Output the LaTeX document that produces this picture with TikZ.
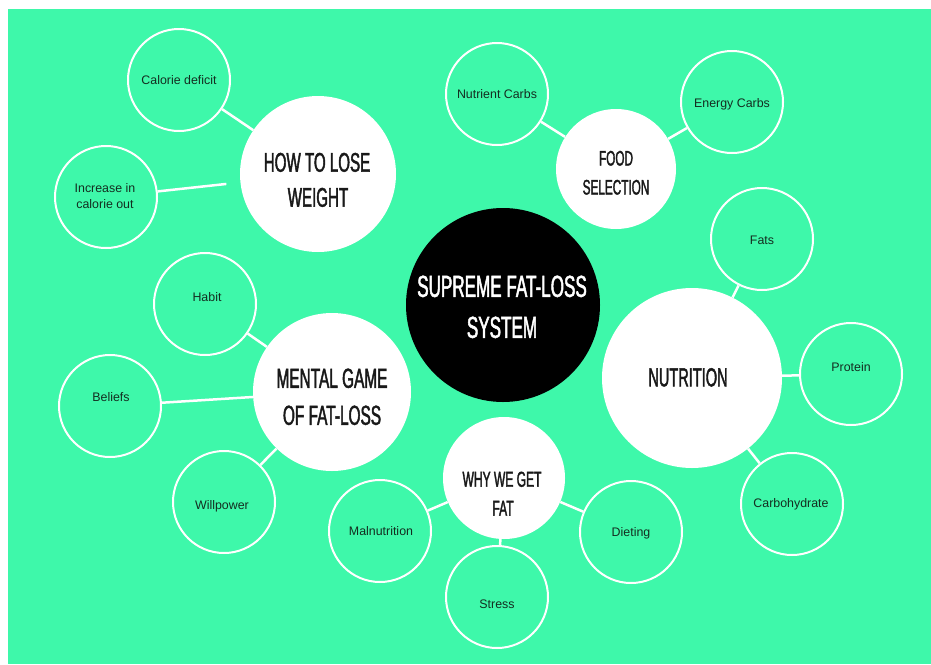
\documentclass[tikz,border=0pt]{standalone}
\usepackage{fontspec}
\setmainfont{Liberation Sans}
\newfontfamily\condfont[FakeStretch=0.56,FakeBold=1.6]{Liberation Sans}
\definecolor{bg}{RGB}{62,248,170}
\definecolor{ink}{RGB}{20,45,32}
\definecolor{bigink}{RGB}{25,25,25}
\begin{document}
\begin{tikzpicture}[x=1pt,y=-1pt,
  small/.style={circle,draw=white,line width=2pt,minimum size=102pt,inner sep=0pt},
  bigw/.style={circle,fill=white,inner sep=0pt},
  link/.style={draw=white,line width=2.5pt},
  stxt/.style={anchor=base,inner sep=0pt,text=ink,font=\fontsize{12.4}{14}\selectfont},
  btxt/.style={anchor=base,inner sep=0pt,text=bigink},
  ]
\useasboundingbox (0,0) rectangle (931,664);
\fill[white] (0,0) rectangle (931,664);
\fill[bg] (8,9) rectangle (931,664);

% main circles
\node[circle,fill=black,inner sep=0pt,minimum size=194pt] (sys) at (503,305) {};
\node[bigw,minimum size=156pt] (htlw) at (318,174) {};
\node[bigw,minimum size=120pt] (food) at (616,169) {};
\node[bigw,minimum size=180pt] (nut) at (692,378) {};
\node[bigw,minimum size=158pt] (mg) at (332,392) {};
\node[bigw,minimum size=122pt] (why) at (504,478) {};

% small circles
\node[small] (cal) at (179,80) {};
\node[small] (inc) at (106,197) {};
\node[small] (nc) at (497,94) {};
\node[small] (ec) at (732,102) {};
\node[small] (fats) at (762,239) {};
\node[small] (prot) at (851,374) {};
\node[small] (carb) at (792,504) {};
\node[small] (habit) at (205,304) {};
\node[small] (bel) at (110,406) {};
\node[small] (will) at (224,502) {};
\node[small] (maln) at (380,531) {};
\node[small] (stress) at (497,597) {};
\node[small] (diet) at (631,532) {};

% connectors
\draw[link] (cal) -- (htlw);
\draw[link,shorten >=14pt] (inc) -- (htlw);
\draw[link] (nc) -- (food);
\draw[link] (ec) -- (food);
\draw[link] (fats) -- (nut);
\draw[link] (prot) -- (nut);
\draw[link] (carb) -- (nut);
\draw[link] (habit) -- (mg);
\draw[link] (bel) -- (mg);
\draw[link] (will) -- (mg);
\draw[link] (maln) -- (why);
\draw[link] (stress) -- (why);
\draw[link] (diet) -- (why);

% big texts
\node[btxt,text=white,font=\condfont\fontsize{30.5}{33}\selectfont] (sys1) at (502,296.9) {SUPREME FAT-LOSS};
\node[btxt,text=white,font=\condfont\fontsize{30.5}{33}\selectfont] (sys2) at (502,337.9) {SYSTEM};
\node[btxt,font=\condfont\fontsize{27}{30}\selectfont] (htlw1) at (317,171.7) {HOW TO LOSE};
\node[btxt,font=\condfont\fontsize{27}{30}\selectfont] (htlw2) at (318,206.7) {WEIGHT};
\node[btxt,font=\condfont\fontsize{21}{24}\selectfont] (food1) at (616,165.5) {FOOD};
\node[btxt,font=\condfont\fontsize{21}{24}\selectfont] (food2) at (616,194.5) {SELECTION};
\node[btxt,font=\condfont\fontsize{26}{29}\selectfont] (nut1) at (688,386.3) {NUTRITION};
\node[btxt,font=\condfont\fontsize{27.5}{30}\selectfont] (mg1) at (332,387.8) {MENTAL GAME};
\node[btxt,font=\condfont\fontsize{27.5}{30}\selectfont] (mg2) at (332,424.8) {OF FAT-LOSS};
\node[btxt,font=\condfont\fontsize{21.5}{24}\selectfont] (why1) at (502,486.7) {WHY WE GET};
\node[btxt,font=\condfont\fontsize{21.5}{24}\selectfont] (why2) at (503,515.7) {FAT};

% small texts
\node[stxt] (tcal) at (179,84.4) {Calorie deficit};
\node[stxt] (tinc1) at (105,192.4) {Increase in};
\node[stxt] (tinc2) at (105,208.4) {calorie out};
\node[stxt] (tnc) at (497,98.4) {Nutrient Carbs};
\node[stxt] (tec) at (732,107.4) {Energy Carbs};
\node[stxt] (tfats) at (762,244.4) {Fats};
\node[stxt] (tprot) at (851,371.4) {Protein};
\node[stxt] (tcarb) at (791,507.4) {Carbohydrate};
\node[stxt] (thabit) at (207,301.4) {Habit};
\node[stxt] (tbel) at (111,401.4) {Beliefs};
\node[stxt] (twill) at (222,509.4) {Willpower};
\node[stxt] (tmaln) at (381,535.4) {Malnutrition};
\node[stxt] (tstress) at (497,608.4) {Stress};
\node[stxt] (tdiet) at (631,536.4) {Dieting};
\end{tikzpicture}
\end{document}
